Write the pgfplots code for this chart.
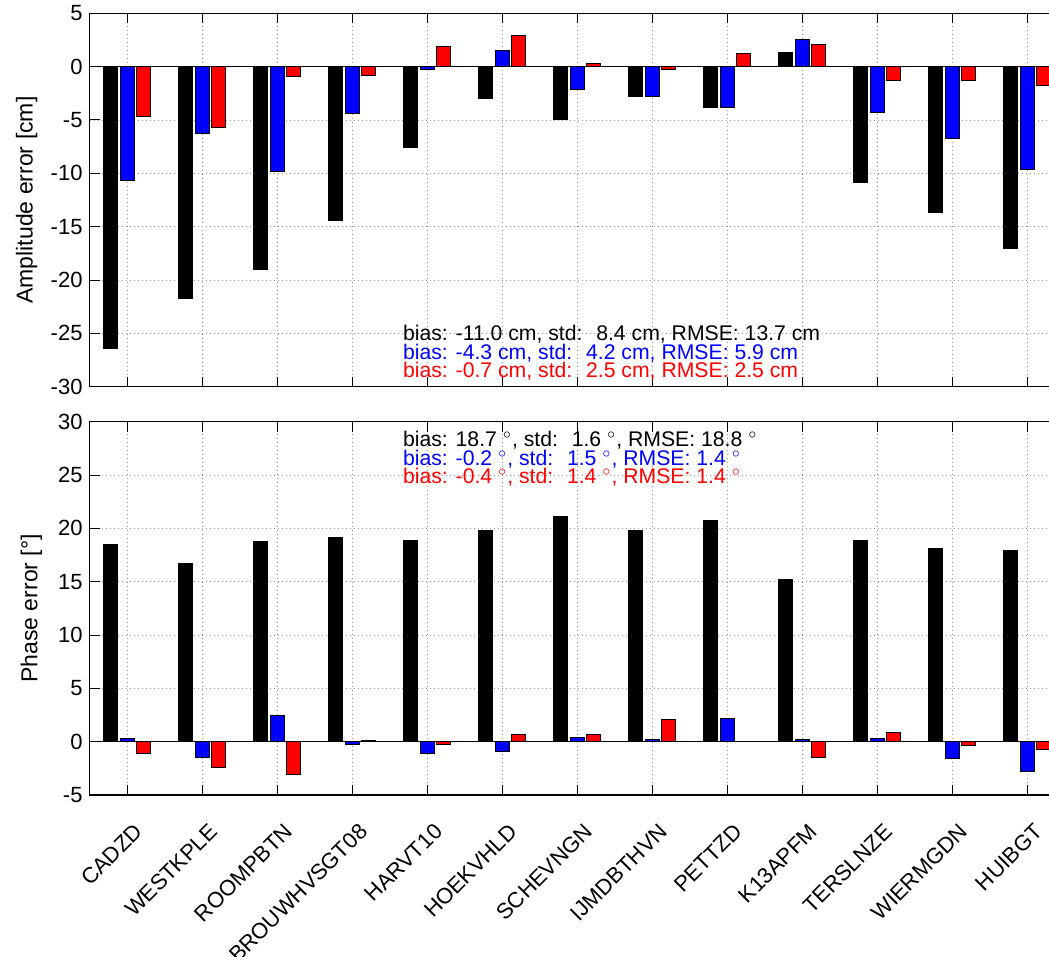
\documentclass[border=0pt]{standalone}
\usepackage{pgfplots}
\usepackage{pgfplotstable}
\pgfplotsset{compat=1.18}
\usepackage{fontspec}
\setmainfont{Liberation Sans}
\definecolor{mblue}{rgb}{0,0,1}
\definecolor{mred}{rgb}{1,0,0}
\definecolor{gridgray}{RGB}{150,150,150}

\pgfplotstableread{
x a b c
1 -26.4 -10.7 -4.7
2 -21.7 -6.3 -5.7
3 -19.0 -9.8 -0.9
4 -14.4 -4.4 -0.8
5 -7.6 -0.3 1.9
6 -3.0 1.5 2.9
7 -5.0 -2.1 0.3
8 -2.8 -2.8 -0.3
9 -3.8 -3.8 1.2
10 1.3 2.5 2.1
11 -10.9 -4.3 -1.3
12 -13.7 -6.7 -1.3
13 -17.0 -9.6 -1.8
}\amp

\pgfplotstableread{
x a b c
1 18.5 0.3 -1.1
2 16.7 -1.5 -2.4
3 18.8 2.5 -3.1
4 19.1 -0.3 0.1
5 18.9 -1.1 -0.3
6 19.8 -0.9 0.7
7 21.1 0.4 0.7
8 19.8 0.2 2.1
9 20.7 2.2 0.0
10 15.2 0.2 -1.5
11 18.9 0.3 0.9
12 18.1 -1.6 -0.4
13 17.9 -2.8 -0.7
}\pha

\pgfplotsset{
 common/.style={
  scale only axis, width=487.45pt, height=186.7pt,
  xmin=0.5, xmax=13.5, enlargelimits=false,
  xtick={1,...,13},
  grid=major,
  grid style={gridgray, line width=0.4pt, dash pattern=on 0.5pt off 1.5pt},
  axis line style={line width=0.6pt},
  tick style={black, line width=0.5pt},
  major tick length=5pt,
  tick align=inside,
  tick label style={font=\fontsize{11}{13}\selectfont},
  /pgf/number format/assume math mode=true,
  ylabel style={font=\fontsize{11.5}{13}\selectfont, anchor=base},
 },
 bars/.style={ybar, bar width=0.187, draw=black, line width=0.5pt},
}
\tikzset{ann/.style={anchor=base west, inner sep=0pt, font=\fontsize{10.6}{12}\selectfont}}

\begin{document}
\begin{tikzpicture}
\begin{axis}[common,
  at={(44.8pt,-193.35pt)}, anchor=south west,
  ymin=-30, ymax=5, ytick={-30,-25,...,5},
  xticklabels={},
  ylabel={Amplitude error [cm]},
  ylabel style={at={(axis description cs:-0.0584,0.5)}},
]
\addplot[bars, bar shift=-0.224, fill=black] table[x=x, y=a] {\amp};
\addplot[bars, bar shift=0, fill=mblue] table[x=x, y=b] {\amp};
\addplot[bars, bar shift=0.224, fill=mred] table[x=x, y=c] {\amp};
\draw[black, line width=0.6pt] (axis cs:0.5,0) -- (axis cs:13.5,0);
\node[ann, black] at (axis cs:4.675,-25.68) {bias: -11.0 cm, std: \ 8.4 cm, RMSE: 13.7 cm};
\node[ann, mblue] at (axis cs:4.675,-27.42) {bias: -4.3 cm, std: \ 4.2 cm, RMSE: 5.9 cm};
\node[ann, mred] at (axis cs:4.675,-29.15) {bias: -0.7 cm, std: \ 2.5 cm, RMSE: 2.5 cm};
\end{axis}

\begin{axis}[common,
  at={(44.8pt,-397.5pt)}, anchor=south west,
  height=186.65pt,
  ymin=-5, ymax=30, ytick={-5,0,...,30},
  xticklabels={CADZD,WESTKPLE,ROOMPBTN,BROUWHVSGT08,HARVT10,HOEKVHLD,SCHEVNGN,IJMDBTHVN,PETTZD,K13APFM,TERSLNZE,WIERMGDN,HUIBGT},
  xticklabel style={xshift=5.8pt, yshift=-16.3pt, rotate=45, anchor=east, inner sep=0pt},
  ylabel={Phase error [°]},
  ylabel style={at={(axis description cs:-0.0537,0.5)}},
]
\addplot[bars, bar shift=-0.224, fill=black] table[x=x, y=a] {\pha};
\addplot[bars, bar shift=0, fill=mblue] table[x=x, y=b] {\pha};
\addplot[bars, bar shift=0.224, fill=mred] table[x=x, y=c] {\pha};
\draw[black, line width=0.6pt] (axis cs:0.5,0) -- (axis cs:13.5,0);
\node[ann, black] at (axis cs:4.675,27.65) {bias: 18.7 $^{\circ}$, std: \ 1.6 $^{\circ}$, RMSE: 18.8 $^{\circ}$};
\node[ann, mblue] at (axis cs:4.675,25.93) {bias: -0.2 $^{\circ}$, std: \ 1.5 $^{\circ}$, RMSE: 1.4 $^{\circ}$};
\node[ann, mred] at (axis cs:4.675,24.22) {bias: -0.4 $^{\circ}$, std: \ 1.4 $^{\circ}$, RMSE: 1.4 $^{\circ}$};
\end{axis}
\pgfresetboundingbox
\useasboundingbox (0,0) rectangle (524.5pt,-478.5pt);
\end{tikzpicture}
\end{document}
